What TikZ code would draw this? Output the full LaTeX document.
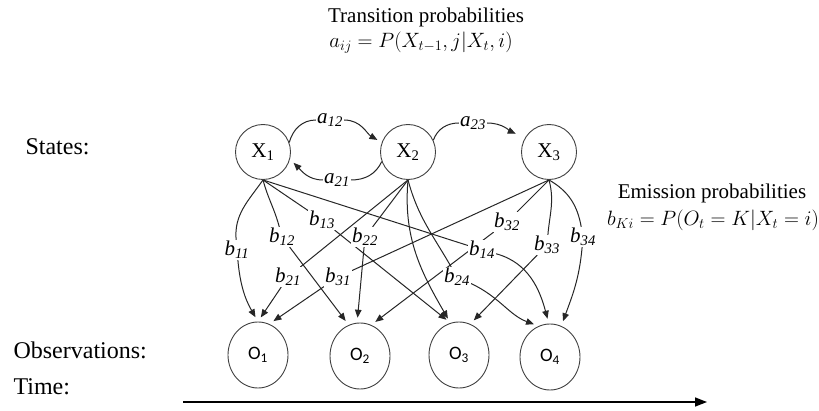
\documentclass[tikz,border=0pt]{standalone}
\usepackage{fontspec}
\setmainfont{Liberation Serif}
\newfontfamily\obsfont{Carlito}
\usetikzlibrary{arrows.meta,shapes.geometric}
\pgfdeclarelayer{background}
\pgfsetlayers{background,main}
\newcommand{\emis}[1]{\textit{b}\textsubscript{\textit{#1}}}
\newcommand{\trans}[1]{\textit{a}\textsubscript{\textit{#1}}}
\tikzset{
  xnode/.style={circle,draw=black!75,line width=0.9pt,minimum size=55pt,inner sep=0pt,font=\fontsize{21}{21}\selectfont},
  onode/.style={ellipse,draw=black!75,line width=0.9pt,minimum width=60pt,minimum height=66pt,inner sep=0pt,font=\obsfont\fontsize{19}{19}\selectfont},
  lab/.style={fill=white,inner sep=1pt,font=\fontsize{21}{21}\selectfont},
  seg/.style={draw=black!85,line width=1pt},
  emit/.style={seg,-{Triangle[length=8pt,width=6.5pt]},shorten >=5pt},
  side/.style={anchor=west,font=\fontsize{24}{24}\selectfont},
  head/.style={font=\fontsize{21}{21}\selectfont},
}
\begin{document}
\begin{tikzpicture}[x=1pt,y=1pt]
  \useasboundingbox (0,0) rectangle (819,410);
  \node[head] (transtitle) at (426,393) {Transition probabilities};
  \node[head] (transformula) at (421,367) {$a_{ij} = P(X_{t-1}, j | X_t, i)$};
  \node[head] (emtitle) at (712,217) {Emission probabilities};
  \node[head] (emformula) at (713,190) {$b_{Ki} = P(O_t = K | X_t = i)$};

  \node[side] (states) at (22,263) {States:};
  \node[side] (observations) at (10,60) {Observations:};
  \node[side] (time) at (10,23) {Time:};

  \node[xnode] (X1) at (263,258) {X\textsubscript{1}};
  \node[xnode] (X2) at (408,258) {X\textsubscript{2}};
  \node[xnode] (X3) at (549,258) {X\textsubscript{3}};

  \node[onode] (O1) at (258,55) {O\textsubscript{1}};
  \node[onode] (O2) at (360,54) {O\textsubscript{2}};
  \node[onode] (O3) at (459,55) {O\textsubscript{3}};
  \node[onode] (O4) at (550,53) {O\textsubscript{4}};

  \node[lab] (a12) at (330,290) {\trans{12}};
  \node[lab] (a21) at (337,230) {\trans{21}};
  \node[lab] (a23) at (473,287) {\trans{23}};

  \node[lab] (b11) at (237,160) {\emis{11}};
  \node[lab] (b12) at (282,173) {\emis{12}};
  \node[lab] (b13) at (322,190) {\emis{13}};
  \node[lab] (b14) at (482,160) {\emis{14}};
  \node[lab] (b21) at (288,133) {\emis{21}};
  \node[lab] (b22) at (365,173) {\emis{22}};
  \node[lab] (b24) at (457,133) {\emis{24}};
  \node[lab] (b31) at (338,133) {\emis{31}};
  \node[lab] (b32) at (507,188) {\emis{32}};
  \node[lab] (b33) at (547,165) {\emis{33}};
  \node[lab] (b34) at (583,173) {\emis{34}};

  \coordinate (t0) at (183,8);
  \coordinate (t1) at (707,8);
  \draw[line width=1.6pt,-{Triangle[length=12pt,width=9pt]}] (t0) -- (t1);

  \begin{pgfonlayer}{background}
    \draw[seg] (X1.20) to[out=75,in=180] (a12);
    \draw[emit] (a12) to[out=0,in=150] (X2.160);
    \draw[seg] (X2.200) to[out=245,in=0] (a21);
    \draw[emit] (a21) to[out=180,in=-45] (X1.-15);
    \draw[seg] (X2.25) to[out=70,in=180] (a23);
    \draw[emit,shorten >=10pt] (a23) to[out=0,in=155] (X3.150);

    \draw[seg] (X1.south) to[out=235,in=95] (b11);
    \draw[emit] (b11) to[out=-85,in=120] (O1.north);
    \draw[seg] (X1.south) to[out=-75,in=105] (b12);
    \draw[emit] (b12) -- (O2.110);
    \draw[seg] (X1.south) -- (b13);
    \draw[emit] (b13) -- (O3.105);
    \draw[seg] (X1.south) -- (b14);
    \draw[emit] (b14) to[out=-15,in=105] (O4.92);

    \draw[seg] (X2.south) -- (b21);
    \draw[emit] (b21) -- (O1.north);
    \draw[seg] (X2.south) -- (b22);
    \draw[emit] (b22) -- (O2.95);
    \draw[emit] (X2.south) to[out=-95,in=120] (O3.105);
    \draw[seg] (X2.south) to[out=-75,in=120] (b24);
    \draw[emit] (b24) to[out=-25,in=160] (O4.110);

    \draw[seg] (X3.south) -- (b31);
    \draw[emit] (b31) -- (O1.70);
    \draw[seg] (X3.south) -- (b32);
    \draw[emit] (b32) -- (O2.70);
    \draw[seg] (X3.south) to[out=-75,in=85] (b33);
    \draw[emit] (b33) -- (O3.70);
    \draw[seg] (X3.south) to[out=-30,in=100] (b34);
    \draw[emit] (b34) to[out=-95,in=70] (O4.70);
  \end{pgfonlayer}
\end{tikzpicture}
\end{document}
